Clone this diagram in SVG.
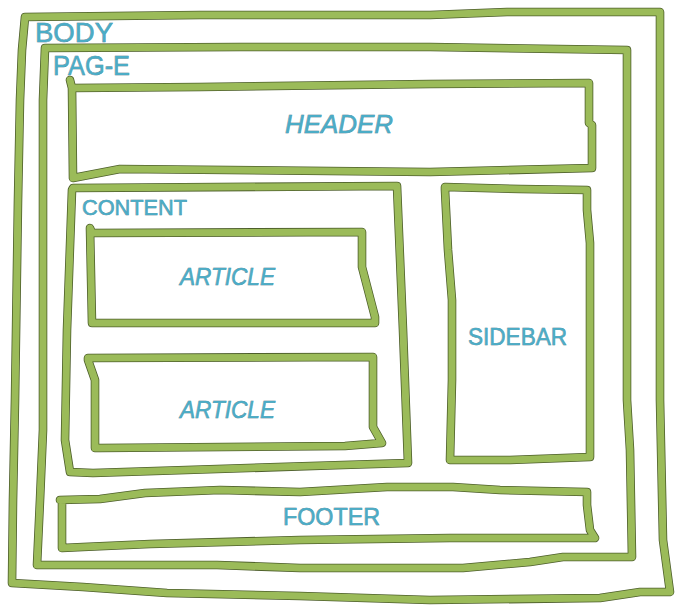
<svg xmlns="http://www.w3.org/2000/svg" xmlns:xlink="http://www.w3.org/1999/xlink" width="683" height="611" viewBox="0 0 683 611">
<style>
.sh{fill:none;stroke:#4d5e2b;stroke-width:8.6;stroke-linejoin:round;stroke-linecap:round}
.ln{fill:none;stroke:#9bbb59;stroke-width:7;stroke-linejoin:round;stroke-linecap:round}
.lbl{font-family:"Liberation Sans","DejaVu Sans",sans-serif;fill:#4bacc6;stroke:#2b6a7c;stroke-width:0.5;paint-order:stroke}
</style>
<defs>
<path id="p-body" d="M25,17 L200,15 L430,15 L507,12 L660,12 L660,400 L663,540 L670,592 L640,592 L600,598 L430,600 L300,596 L167,593 L83,587 L12,583 L13,500 L15,400 L18,200 L20,100 L22,50 Z"/>
<path id="p-page" d="M45,48 L240,47 L430,47 L627,50 L627,400 L630,450 L632,557 L563,557 L530,562 L463,568 L300,568 L217,565 L37,565 L40,500 L43,430 L43,100 Z"/>
<path id="p-header" d="M70,80 L72,88 L200,87 L430,84 L589,83 L589,123 L592,125 L592,168 L430,172 L120,169 L73,178 L72,88"/>
<path id="p-content" d="M73,188 L397,186 L403,330 L408,463 L343,465 L93,473 L70,472 L65,440 L67,330 L72,190 Z"/>
<path id="p-art1" d="M90,228 L92,233 L362,232 L362,267 L375,317 L375,323 L92,323 Z"/>
<path id="p-art2" d="M88,358 L373,357 L373,427 L382,443 L345,446 L100,448 L95,448 L95,380 L88,360 Z"/>
<path id="p-sidebar" d="M445,187 L520,189 L587,190 L587,210 L590,243 L590,457 L510,460 L450,460 L452,380 L452,300 L448,250 L445,190 Z"/>
<path id="p-footer" d="M60,500 L100,499 L145,493 L220,490 L300,492 L387,487 L453,487 L500,490 L587,492 L587,505 L590,530 L595,538 L450,538 L300,540 L150,544 L83,547 L62,548 L62,500 Z"/>
</defs>
<rect width="683" height="611" fill="#ffffff"/>
<g id="body">
<use xlink:href="#p-body" class="sh"/><use xlink:href="#p-body" class="ln"/>
<text class="lbl" x="35" y="42" font-size="28" textLength="78" lengthAdjust="spacingAndGlyphs">BODY</text>
</g>
<g id="page">
<use xlink:href="#p-page" class="sh"/><use xlink:href="#p-page" class="ln"/>
<text class="lbl" x="53" y="75" font-size="28" textLength="77" lengthAdjust="spacingAndGlyphs">PAG-E</text>
</g>
<g id="header">
<use xlink:href="#p-header" class="sh"/><use xlink:href="#p-header" class="ln"/>
<text class="lbl" x="285" y="133" font-size="26" font-style="italic" textLength="108" lengthAdjust="spacingAndGlyphs">HEADER</text>
</g>
<g id="content">
<use xlink:href="#p-content" class="sh"/><use xlink:href="#p-content" class="ln"/>
<text class="lbl" x="82" y="215" font-size="22" textLength="105" lengthAdjust="spacingAndGlyphs">CONTENT</text>
</g>
<g id="article1">
<use xlink:href="#p-art1" class="sh"/><use xlink:href="#p-art1" class="ln"/>
<text class="lbl" x="180" y="285" font-size="24" font-style="italic" textLength="95" lengthAdjust="spacingAndGlyphs">ARTICLE</text>
</g>
<g id="article2">
<use xlink:href="#p-art2" class="sh"/><use xlink:href="#p-art2" class="ln"/>
<text class="lbl" x="180" y="418" font-size="24" font-style="italic" textLength="95" lengthAdjust="spacingAndGlyphs">ARTICLE</text>
</g>
<g id="sidebar">
<use xlink:href="#p-sidebar" class="sh"/><use xlink:href="#p-sidebar" class="ln"/>
<text class="lbl" x="468" y="345" font-size="24" textLength="99" lengthAdjust="spacingAndGlyphs">SIDEBAR</text>
</g>
<g id="footer">
<use xlink:href="#p-footer" class="sh"/><use xlink:href="#p-footer" class="ln"/>
<text class="lbl" x="283" y="525" font-size="24" textLength="97" lengthAdjust="spacingAndGlyphs">FOOTER</text>
</g>
</svg>
